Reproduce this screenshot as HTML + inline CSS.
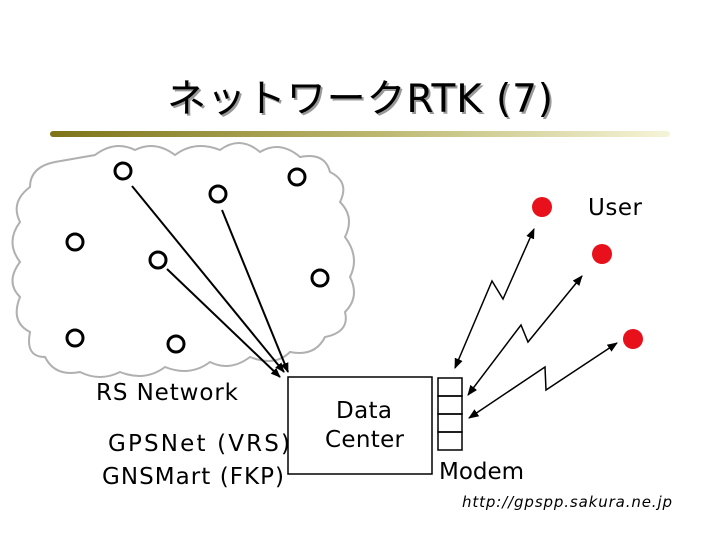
<!DOCTYPE html>
<html><head><meta charset="utf-8"><style>
html,body{margin:0;padding:0;background:#fff;width:720px;height:540px;overflow:hidden}
svg{display:block}
text{font-family:"DejaVu Sans","Liberation Sans","Noto Sans CJK JP",sans-serif}
</style></head><body>
<svg width="720" height="540" viewBox="0 0 720 540" xmlns="http://www.w3.org/2000/svg">
<defs>
<linearGradient id="g" x1="0" x2="1" y1="0" y2="0">
<stop offset="0" stop-color="#7d7418"/><stop offset="0.5" stop-color="#b8b46a"/><stop offset="1" stop-color="#f6f4d8"/>
</linearGradient>
<marker id="a" viewBox="0 0 10 10" refX="9" refY="5" markerWidth="7" markerHeight="7" orient="auto-start-reverse">
<path d="M0,1 L10,5 L0,9 z" fill="#000"/></marker>
<marker id="b" viewBox="0 0 10 10" refX="9" refY="5" markerWidth="5" markerHeight="5" orient="auto">
<path d="M0,1 L10,5 L0,9 z" fill="#000"/></marker>
</defs>
<text x="167" y="112" font-size="39" textLength="386" fill="#999" transform="translate(2,2)" font-family="'DejaVu Sans','Noto Sans CJK JP',sans-serif">ネットワークRTK (7)</text>
<text x="167" y="112" font-size="39" textLength="386" fill="#000" font-family="'DejaVu Sans','Noto Sans CJK JP',sans-serif">ネットワークRTK (7)</text>
<rect x="50" y="131" width="620" height="6" rx="3" fill="url(#g)"/>
<path d="M95,155 q20,-15 40,-5 q20,-10 40,5 q20,-15 45,-5 q20,-15 40,2 q20,-12 40,5 q25,-5 30,15 q20,10 10,30 q15,15 5,35 q15,20 5,40 q10,20 -5,35 q5,20 -20,25 q-10,20 -35,15 q-15,15 -40,5 q-20,15 -40,5 q-20,15 -45,5 q-20,15 -45,5 q-20,10 -40,0 q-25,5 -35,-15 q-20,0 -15,-25 q-20,-10 -10,-35 q-15,-15 0,-35 q-15,-20 0,-40 q-10,-20 10,-35 q0,-20 25,-25 z" fill="#fff" stroke="#b0b0b0" stroke-width="2"/>
<g fill="#fff" stroke="#000" stroke-width="3">
<circle cx="123" cy="171" r="8"/><circle cx="218" cy="194" r="8"/><circle cx="297" cy="177" r="8"/>
<circle cx="75" cy="242" r="8"/><circle cx="158" cy="260" r="8"/><circle cx="320" cy="278" r="8"/>
<circle cx="75" cy="338" r="8"/><circle cx="176" cy="344" r="8"/>
</g>
<g stroke="#000" stroke-width="2" fill="none">
<line x1="132" y1="186" x2="284" y2="372" marker-end="url(#b)"/>
<line x1="167" y1="269" x2="280" y2="377" marker-end="url(#b)"/>
<line x1="222" y1="210" x2="288" y2="372" marker-end="url(#b)"/>
<rect x="288" y="377" width="144" height="97" stroke-width="1.5"/>
<rect x="438" y="378" width="24" height="18" stroke-width="1.5"/>
<rect x="438" y="396" width="24" height="18" stroke-width="1.5"/>
<rect x="438" y="414" width="24" height="18" stroke-width="1.5"/>
<rect x="438" y="432" width="24" height="18" stroke-width="1.5"/>
<polyline points="455,368 492,281 503,299 534,229" marker-start="url(#a)" marker-end="url(#a)" stroke-width="1.5"/>
<polyline points="468,395 521,325 528,342 582,276" marker-start="url(#a)" marker-end="url(#a)" stroke-width="1.5"/>
<polyline points="469,418 545,367 546,390 617,343" marker-start="url(#a)" marker-end="url(#a)" stroke-width="1.5"/>
</g>
<g fill="#e8101a"><circle cx="542" cy="207" r="10"/><circle cx="602" cy="254" r="10"/><circle cx="633" cy="339" r="10"/></g>
<g font-size="23" fill="#000">
<text x="588" y="215" textLength="54">User</text>
<text x="96" y="400" textLength="142">RS Network</text>
<text x="108" y="451" textLength="182">GPSNet (VRS)</text>
<text x="102" y="484" textLength="182">GNSMart (FKP)</text>
<text x="336" y="418" textLength="56">Data</text>
<text x="325" y="447" textLength="79">Center</text>
<text x="439" y="479" textLength="85">Modem</text>
</g>
<text x="462" y="507" font-size="15" font-style="italic" fill="#000" textLength="210">http://gpspp.sakura.ne.jp</text>
</svg>
</body></html>
